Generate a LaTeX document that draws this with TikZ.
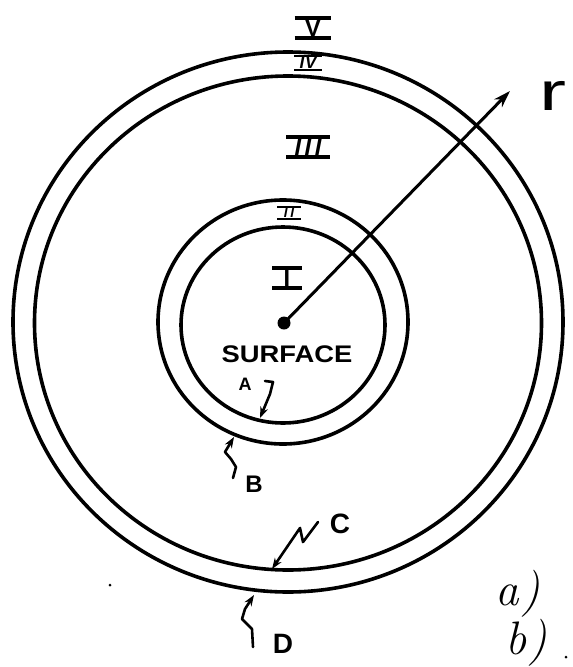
\documentclass[tikz,border=0pt]{standalone}
\usepackage{fontspec}
\usepackage{graphicx}
\usetikzlibrary{arrows.meta}
\newfontfamily\hand{Liberation Sans}
\newcommand\romanbar[2]{\setbox0=\hbox{\kern#1#2\kern#1}\rlap{\rule[-0.15em]{\wd0}{0.15em}}\rlap{\rule[\ht0]{\wd0}{0.15em}}\box0}
\tikzset{
  ring/.style={line width=3.6pt},
  numeral/.style={inner sep=0pt},
  lbl/.style={inner sep=0pt},
  zig/.style={line width=2.6pt, line join=round, line cap=round, -{Stealth[length=11pt,width=8pt]}},
  speck/.style={circle, fill, inner sep=0pt, minimum size=3pt}
}
\begin{document}
\begin{tikzpicture}[x=1pt,y=-1pt]
\clip (0,0) rectangle (573,667);
\fill[white] (0,0) rectangle (573,667);
% circles
\draw[ring] (283,325) ellipse [x radius=102pt, y radius=98pt];
\draw[ring] (283,322) ellipse [x radius=125pt, y radius=122pt];
\draw[ring] (288,323) ellipse [x radius=253.5pt, y radius=247pt];
\draw[ring] (288,322) ellipse [x radius=275pt, y radius=270pt];
% centre and radius arrow
\node[circle, fill, inner sep=0pt, minimum size=13pt] (ctr) at (284,323) {};
\coordinate (rtip) at (510,91);
\draw[line width=3pt, -{Stealth[length=17pt,width=11pt]}] (ctr.center) -- (rtip);
\node[lbl] (r) at (553,96) {\hand\fontsize{54}{60}\selectfont\scalebox{1.5}[1]{r}};
% roman numerals
\node[numeral] (nV) at (313,28) {\hand\bfseries\fontsize{23.5}{26}\selectfont\romanbar{0.45em}{V}};
\node[numeral] (nIV) at (308,63) {\hand\bfseries\itshape\fontsize{17}{20}\selectfont\romanbar{0.3em}{I\kern0.05em V}};
\node[numeral] (nIII) at (308,147) {\hand\bfseries\itshape\fontsize{23.5}{26}\selectfont\romanbar{0.35em}{I\kern0.15em I\kern0.15em I}};
\node[numeral] (nII) at (289,213) {\hand\bfseries\itshape\fontsize{13.5}{16}\selectfont\romanbar{0.5em}{I\kern0.2em I}};
\node[numeral] (nI) at (287,278) {\hand\bfseries\fontsize{23.5}{26}\selectfont\romanbar{0.48em}{I}};
% surface label
\node[lbl] (surf) at (287,354) {\hand\bfseries\fontsize{24}{28}\selectfont\scalebox{1.14}[1]{SURFACE}};
% A
\node[lbl] (A) at (245,384) {\hand\bfseries\fontsize{18}{20}\selectfont A};
\coordinate (Atip) at (260,418);
\draw[zig] (265,381) -- (273,382) -- (270,394) -- (Atip);
% B
\node[lbl] (B) at (254,484) {\hand\bfseries\fontsize{24}{28}\selectfont B};
\coordinate (Bstart) at (233,478);
\coordinate (Btip) at (234,437);
\draw[zig] (Bstart) -- (236,467) -- (231,459) -- (225,452) -- (Btip);
% C
\node[lbl] (C) at (340,524) {\hand\bfseries\fontsize{28}{32}\selectfont C};
\coordinate (Cstart) at (318,522);
\coordinate (Ctip) at (272,569);
\draw[zig] (Cstart) -- (303,542) -- (300,528) -- (Ctip);
% D
\node[lbl] (D) at (283,644) {\hand\bfseries\fontsize{28}{32}\selectfont D};
\coordinate (Dstart) at (253,647);
\coordinate (Dtip) at (254,595);
\draw[zig] (Dstart) -- (252,629) -- (242,619) -- (245,609) -- (Dtip);
% a) b)
\node[lbl, anchor=base west] (pa) at (495,605) {\fontsize{47}{54}\selectfont\itshape a\kern0.05em)};
\node[lbl, anchor=base west] (pb) at (505,654) {\fontsize{47}{54}\selectfont\itshape b\kern0.05em)};
% specks
\node[speck] (s1) at (110,585) {};
\node[speck] (s2) at (566,657) {};
\end{tikzpicture}
\end{document}
